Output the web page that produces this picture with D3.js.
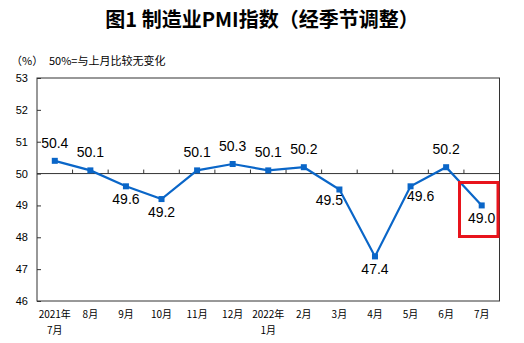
<!DOCTYPE html>
<html><head><meta charset="utf-8">
<script src="https://cdn.jsdelivr.net/npm/d3@7"></script>
<style>
body{margin:0;background:#fff;}
svg{display:block;}
</style></head>
<body>
<svg id="c" width="524" height="343"></svg>
<script>
const categories = [["2021年","7月"],["8月"],["9月"],["10月"],["11月"],["12月"],["2022年","1月"],["2月"],["3月"],["4月"],["5月"],["6月"],["7月"]];
const values = [50.4,50.1,49.6,49.2,50.1,50.3,50.1,50.2,49.5,47.4,49.6,50.2,49.0];
const yTicks = [46,47,48,49,50,51,52,53];
const labelPos = ["above","above","below","below","above","above","above","above","belowLeft","below","belowRight","above","below"];
const title = "图1 制造业PMI指数（经季节调整）";
const unitLabel = "（%）";
const note = "50%=与上月比较无变化";

const svg = d3.select("#c");
const L = 37, R = 499.5, T = 78, B = 301;
const idx = d3.range(values.length);
const x = d3.scaleBand().domain(idx).range([L, R]);
const y = d3.scaleLinear().domain([46,53]).range([B, T]);
const cx = i => x(i) + x.bandwidth()/2;

svg.append("text").attr("x",262).attr("y",27).attr("text-anchor","middle")
  .attr("font-family","'Noto Sans CJK SC', sans-serif").attr("font-weight","bold")
  .attr("font-size",20).attr("fill","#000").text(title);
svg.append("text").attr("x",11).attr("y",65)
  .attr("font-family","'Noto Sans CJK SC', sans-serif").attr("font-size",11).attr("fill","#000").text(unitLabel);
svg.append("text").attr("x",49).attr("y",65)
  .attr("font-family","'Noto Sans CJK SC', sans-serif").attr("font-size",11).attr("fill","#000").text(note);

// frame
svg.append("rect").attr("x",L).attr("y",T).attr("width",R-L).attr("height",B-T)
  .attr("fill","none").attr("stroke","#333").attr("stroke-width",1);

// y axis
const yAxis = svg.append("g").attr("transform",`translate(${L},0)`)
  .call(d3.axisLeft(y).tickValues(yTicks).tickSize(-4).tickPadding(9).tickFormat(d3.format("d")));
yAxis.select(".domain").remove();
yAxis.selectAll("line").attr("stroke","#333");
yAxis.selectAll("text").attr("font-family","'Liberation Sans', Arial, sans-serif").attr("font-size",11).attr("fill","#000");

// 50 line with ticks at band boundaries
svg.append("line").attr("x1",L).attr("x2",R).attr("y1",y(50)).attr("y2",y(50)).attr("stroke","#333").attr("stroke-width",1);
svg.selectAll(".bt").data(idx.slice(1)).join("line")
  .attr("x1",d=>x(d)).attr("x2",d=>x(d)).attr("y1",y(50)).attr("y2",y(50)-4).attr("stroke","#333");

// x labels
const xl = svg.append("g");
categories.forEach((c,i)=>{
  c.forEach((s,j)=>{
    xl.append("text").attr("x",cx(i)).attr("y",318+j*16).attr("text-anchor","middle")
      .attr("font-family","'Noto Sans CJK SC', sans-serif").attr("font-size",10).attr("fill","#000").text(s);
  });
});

// line
const line = d3.line().x((d,i)=>cx(i)).y(d=>y(d));
svg.append("path").datum(values).attr("d",line).attr("fill","none")
  .attr("stroke","#0a66c8").attr("stroke-width",2.2);
svg.selectAll(".pt").data(values).join("rect")
  .attr("x",(d,i)=>cx(i)-3).attr("y",d=>y(d)-3).attr("width",6).attr("height",6).attr("fill","#0a66c8");

// labels
svg.selectAll(".lb").data(values).join("text")
  .attr("x",(d,i)=>cx(i) + (labelPos[i]==="belowLeft"?-10:labelPos[i]==="belowRight"?10:0))
  .attr("y",(d,i)=>y(d) + (labelPos[i]==="above"?-13:(labelPos[i]==="below"?18:15)))
  .attr("text-anchor","middle")
  .attr("font-family","'Liberation Sans', Arial, sans-serif").attr("font-size",14).attr("fill","#000")
  .text(d=>d3.format(".1f")(d));

// highlight box
svg.append("rect").attr("x",459.5).attr("y",182.5).attr("width",38.5).attr("height",54)
  .attr("fill","none").attr("stroke","#e8141c").attr("stroke-width",3);
</script>
</body></html>
